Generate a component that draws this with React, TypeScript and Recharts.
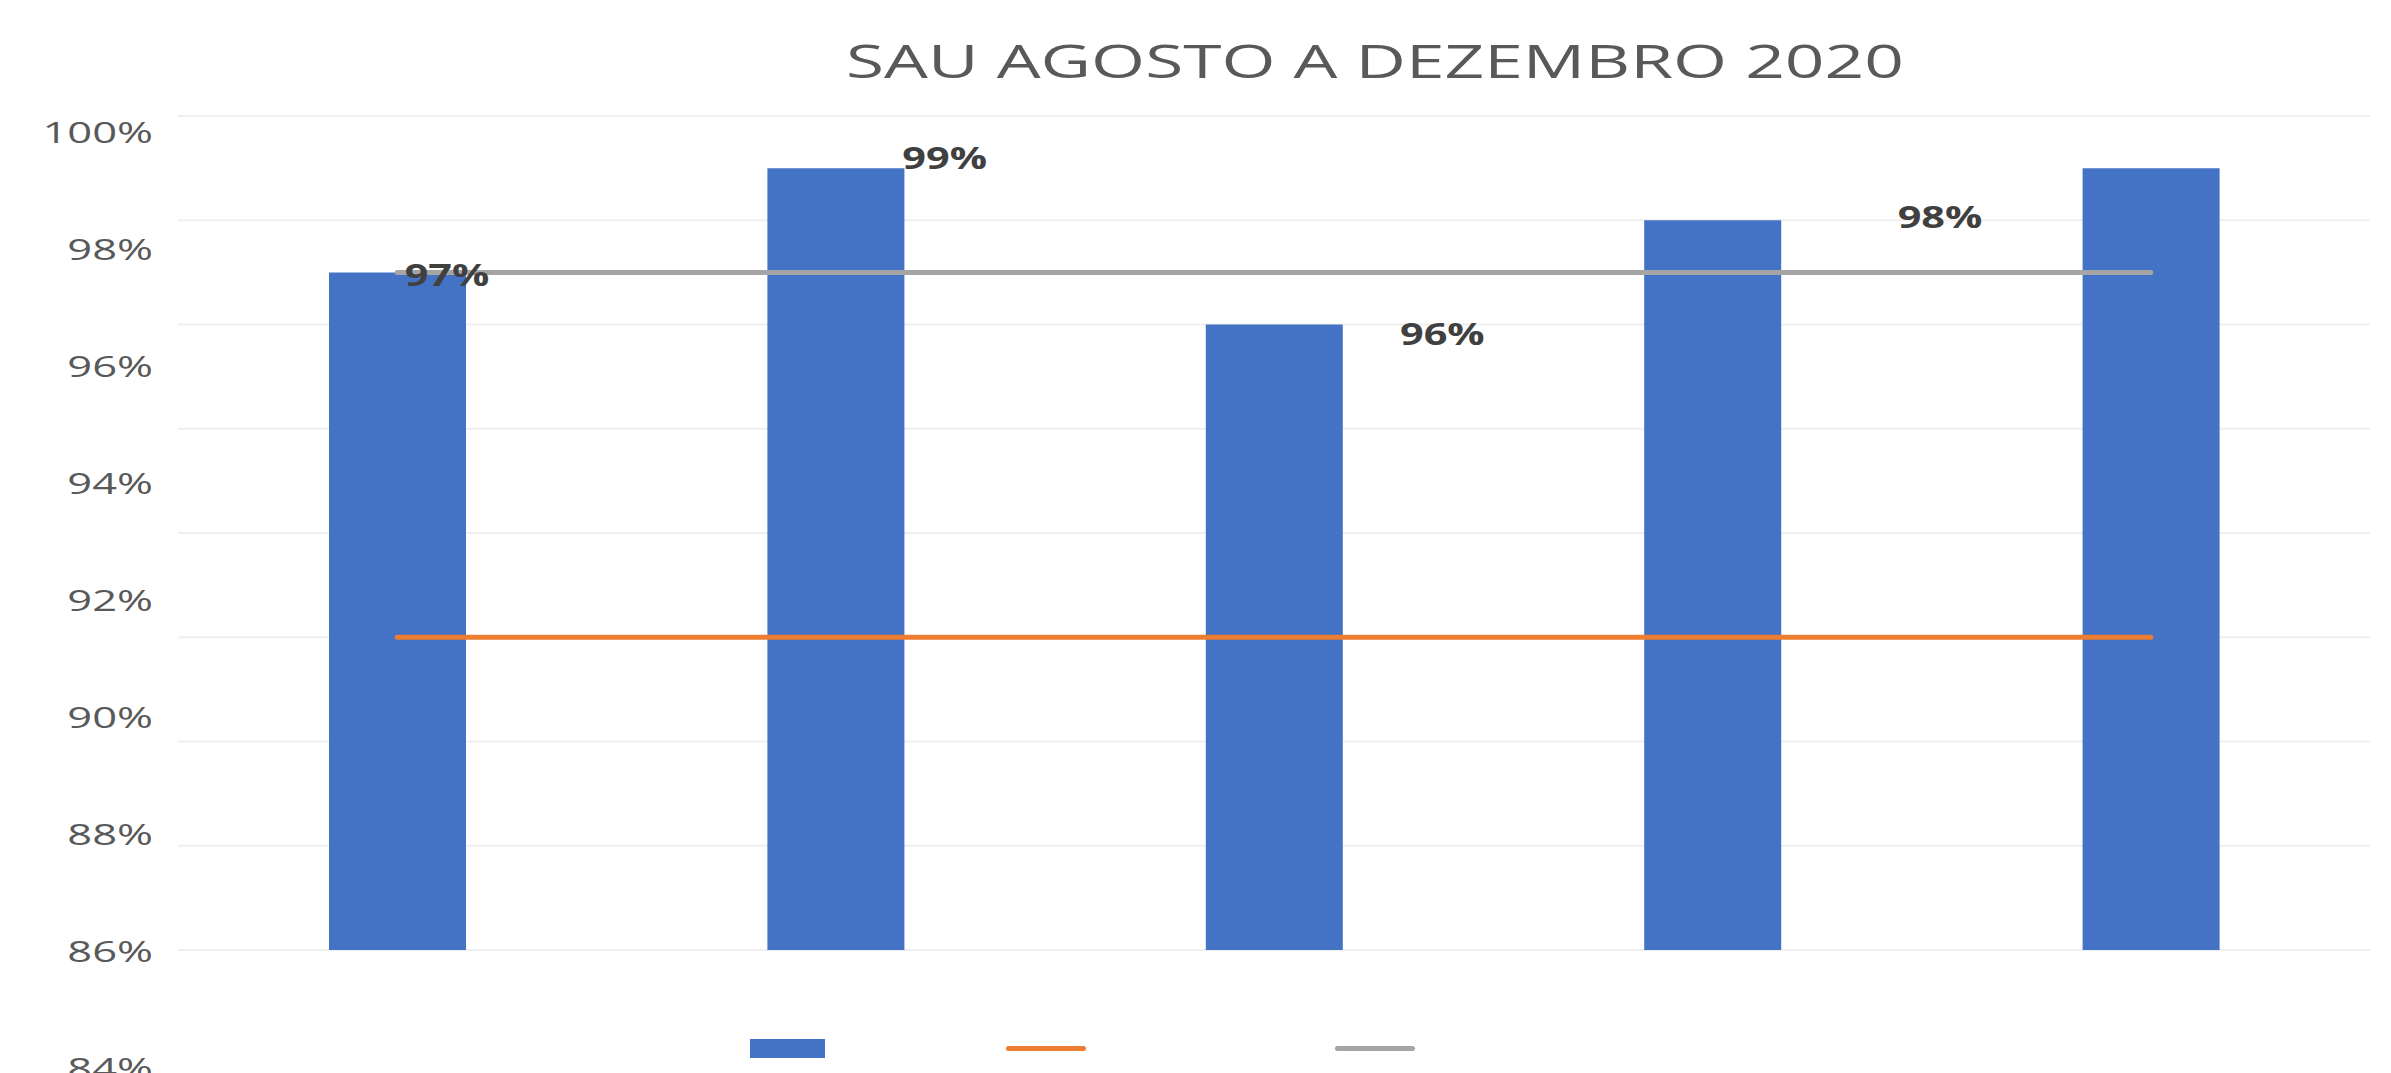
import React from 'react';
import { ComposedChart, Bar, Line, XAxis, YAxis, CartesianGrid, Legend, LabelList } from 'recharts';

const months = ['Agosto', 'Setembro', 'Outubro', 'Novembro', 'Dezembro'];
const sau = [97, 99, 96, 98, 99];
const meta = [90, 90, 90, 90, 90];
const media = [97, 97, 97, 97, 97];
const yTicks = [84, 86, 88, 90, 92, 94, 96, 98, 100];
const seriesOrder = ['SAU', 'Meta', 'Média'];

const BLUE = '#4472C4';
const ORANGE = '#ED7D31';
const GRAY = '#A5A5A5';
const TEXT = '#595959';
const FONT = '"Open Sans", sans-serif';
const W = 2391;
const H = 1073;
// the text layer of the original is stretched wider than the plot
const STRETCH = 1.45;

const data = months.map((m, i) => ({ month: m, idx: i, sau: sau[i], meta: meta[i], media: media[i] }));

const YTick = ({ x, y, payload }: any) => (
  <text
    transform={`translate(${x},${y}) scale(${STRETCH},1)`}
    textAnchor="end"
    dominantBaseline="central"
    fontSize={30}
    fontFamily={FONT}
    fill={TEXT}
  >
    {payload.value}%
  </text>
);

const ValueLabel = ({ x, y, value }: any) => {
  // labels that fall past the right edge are not drawn (as in the original)
  if (x + 45 > W) return null;
  return (
    <text
      transform={`translate(${x},${y - 32}) scale(1.38,1)`}
      textAnchor="middle"
      dominantBaseline="central"
      fontSize={30}
      fontWeight="bold"
      fontFamily={FONT}
      fill="#404040"
    >
      {value}%
    </text>
  );
};

const LegendIcons = ({ payload }: any) => {
  const items = (payload || [])
    .filter((p: any) => p.type !== 'none')
    .sort((a: any, b: any) => seriesOrder.indexOf(a.value) - seriesOrder.indexOf(b.value));
  const gaps = [181, 249, 0];
  return (
    <div style={{ display: 'flex', alignItems: 'center', paddingLeft: 750, height: 20 }}>
      {items.map((p: any, i: number) =>
        p.type === 'rect' ? (
          <div key={i} style={{ width: 75, height: 19, background: p.color, marginRight: gaps[i] }} />
        ) : (
          <div key={i} style={{ width: 80, height: 5, borderRadius: 3, background: p.color, marginRight: gaps[i] }} />
        )
      )}
    </div>
  );
};

export default function App() {
  return (
    <div style={{ position: 'absolute', left: 0, top: 0, width: W, height: H, background: '#fff', overflow: 'hidden' }}>
      <div
        style={{
          position: 'absolute',
          left: 1375,
          top: 37,
          transform: 'translateX(-50%) scaleX(1.51)',
          fontFamily: FONT,
          fontSize: 46,
          lineHeight: 1,
          color: TEXT,
          whiteSpace: 'nowrap',
        }}
      >
        SAU AGOSTO A DEZEMBRO 2020
      </div>
      <ComposedChart width={W} height={H} data={data} margin={{ top: 116, right: 21, bottom: 123, left: 0 }}>
        <CartesianGrid vertical={false} stroke="#EFEFEF" strokeWidth={2} yAxisId="main" xAxisId="main" />
        <XAxis xAxisId="main" dataKey="month" hide />
        <XAxis xAxisId="lab" type="number" dataKey="idx" domain={[-0.5405, 3.864]} allowDataOverflow hide />
        <YAxis yAxisId="main" domain={[84, 100]} ticks={yTicks} allowDataOverflow hide />
        <YAxis
          yAxisId="lab"
          domain={[86, 100.256]}
          ticks={yTicks}
          allowDataOverflow
          interval={0}
          width={178}
          axisLine={false}
          tickLine={false}
          tickSize={0}
          tickMargin={25}
          tick={<YTick />}
        />
        <Bar xAxisId="main" yAxisId="main" dataKey="sau" name="SAU" fill={BLUE} barSize={137} isAnimationActive={false} />
        <Line xAxisId="main" yAxisId="main" dataKey="meta" name="Meta" stroke={ORANGE} strokeWidth={5} strokeLinecap="round" dot={false} activeDot={false} isAnimationActive={false} />
        <Line xAxisId="main" yAxisId="main" dataKey="media" name="Média" stroke={GRAY} strokeWidth={5} strokeLinecap="round" dot={false} activeDot={false} isAnimationActive={false} />
        <Line xAxisId="lab" yAxisId="lab" dataKey="sau" stroke="none" dot={false} activeDot={false} legendType="none" isAnimationActive={false}>
          <LabelList dataKey="sau" content={<ValueLabel />} />
        </Line>
        <Legend
          layout="vertical"
          verticalAlign="middle"
          align="center"
          wrapperStyle={{ left: 0, top: 1038, width: W }}
          content={<LegendIcons />}
        />
      </ComposedChart>
    </div>
  );
}
